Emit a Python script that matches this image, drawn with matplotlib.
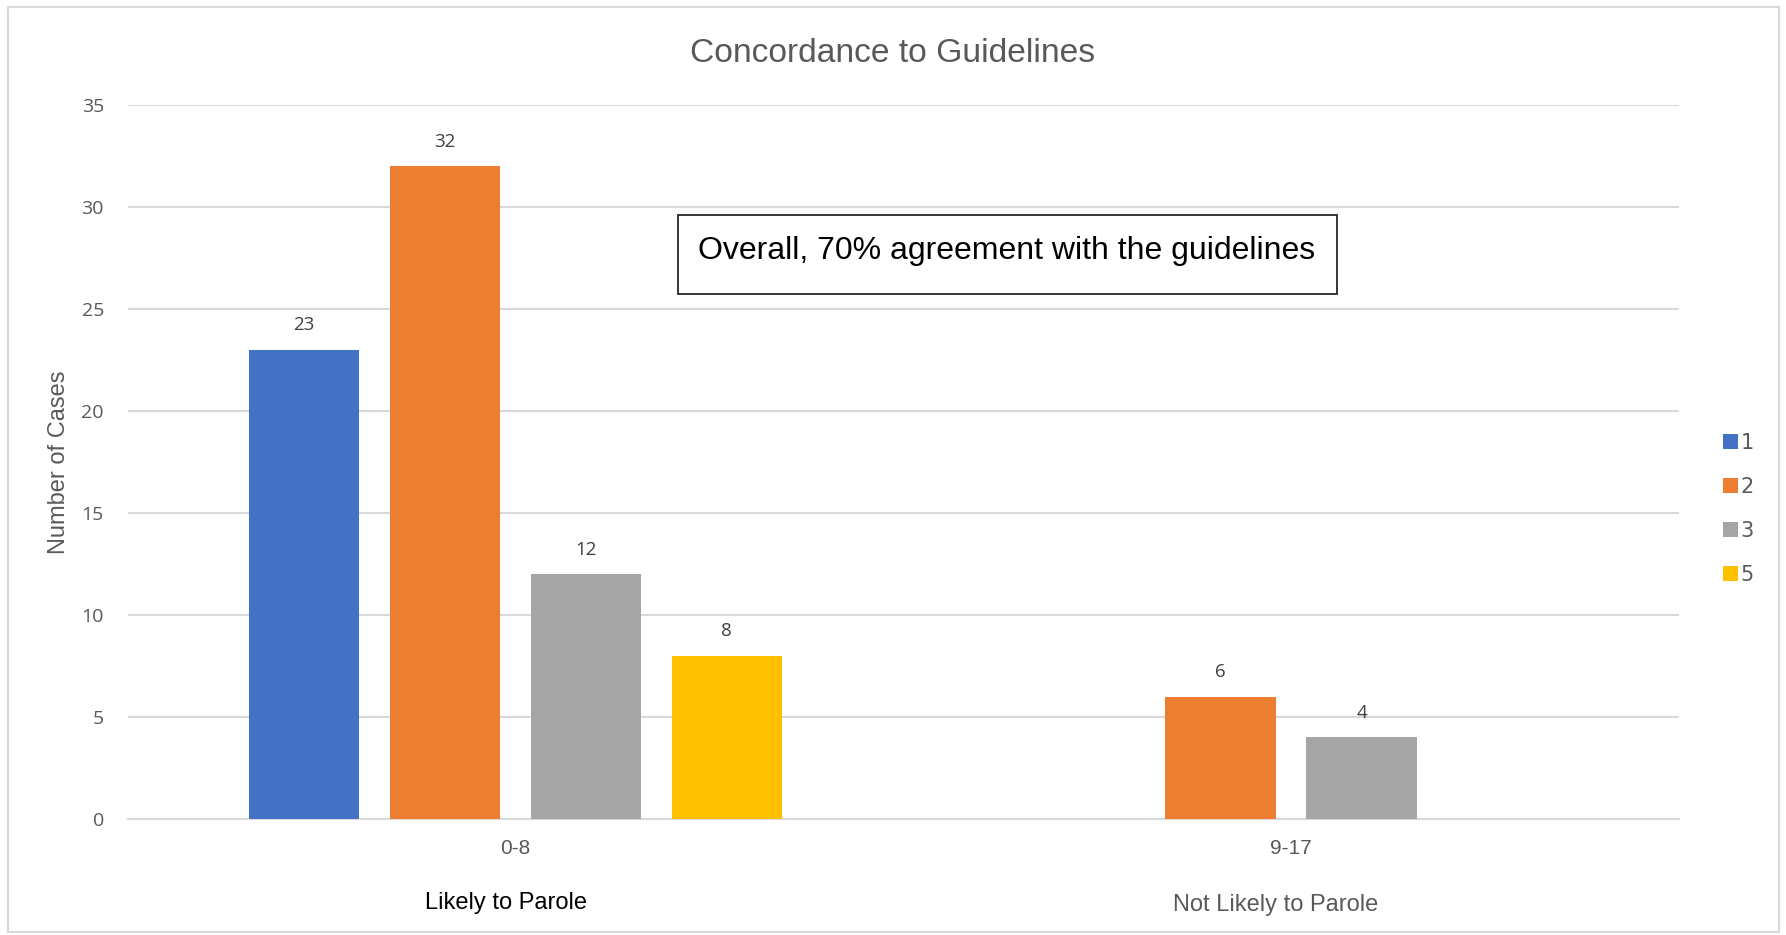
import numpy as np
import matplotlib
matplotlib.use('Agg')
import matplotlib.pyplot as plt
from matplotlib import font_manager
from matplotlib.patches import Rectangle

categories = ['0-8', '9-17']
groups = ['Likely to Parole', 'Not Likely to Parole']
series_names = ['1', '2', '3', '5']
s1 = [23, np.nan]
s2 = [32, 6]
s3 = [12, 4]
s5 = [8, np.nan]
colors = ['#4472C4', '#ED7D31', '#A5A5A5', '#FFC000']

names = {f.name for f in font_manager.fontManager.ttflist}
narrow = 'Liberation Sans Narrow' if 'Liberation Sans Narrow' in names else 'Liberation Sans'
tickfont = 'Open Sans'

fig = plt.figure(figsize=(17.86, 9.35), dpi=100)
ax = fig.add_axes([0.0714, 0.124, 0.8687, 0.7639])

x = np.arange(len(categories))
slot = 0.1817
width = 0.1424
offsets = [-1.5, -0.5, 0.5, 1.5]
handles = []
for vals, off, c, n in zip([s1, s2, s3, s5], offsets, colors, series_names):
    bars = ax.bar(x + off * slot, np.nan_to_num(vals), width, color=c, label=n, zorder=3)
    handles.append(bars)
    for xi, v in zip(x, vals):
        if not np.isnan(v):
            ax.annotate(str(v), (xi + off * slot, v), xytext=(0, 17.5), textcoords='offset points',
                        ha='center', va='center', fontsize=13.5, color='#404040', family=tickfont)

ax.set_xlim(-0.5, 1.5)
ax.set_ylim(0, 35)
ax.set_yticks(range(0, 36, 5))
ax.grid(axis='y', color='#d9d9d9', linewidth=1.5, zorder=0)
for s in ['top', 'right', 'left']:
    ax.spines[s].set_visible(False)
ax.spines['bottom'].set_color('#d9d9d9')
ax.spines['bottom'].set_linewidth(1.5)
ax.tick_params(axis='y', length=0, pad=17, labelsize=14, labelcolor='#595959')
ax.tick_params(axis='x', length=0, pad=14, labelsize=15, labelcolor='#595959')
for lab in ax.get_yticklabels():
    lab.set_family(tickfont)
ax.set_xticks(x)
ax.set_xticklabels(categories, family=narrow)

ax.set_ylabel('Number of Cases', fontsize=17, color='#595959', family=narrow, labelpad=8)

# group labels under the categories
ax.text(-0.0125, -0.117, groups[0], transform=ax.get_xaxis_transform(), ha='center', va='center',
        fontsize=17, color='black', family=narrow)
ax.text(0.98, -0.12, groups[1], transform=ax.get_xaxis_transform(), ha='center', va='center',
        fontsize=17, color='#595959', family=narrow)

fig.text(0.5, 1 - 53.5 / 935, 'Concordance to Guidelines', ha='center', va='center',
         fontsize=24.2, color='#595959', family=narrow)

# annotation box
fig.patches.append(Rectangle((678 / 1786, 1 - 294 / 935), 659 / 1786, 79 / 935,
                             transform=fig.transFigure, fill=False, edgecolor='#262626', linewidth=1.3))
fig.text(1007 / 1786, 1 - 250.5 / 935, 'Overall, 70% agreement with the guidelines', ha='center', va='center',
         fontsize=23, color='black', family=narrow)

leg = fig.legend(handles=handles, labels=series_names, loc='upper left', bbox_to_anchor=(1704 / 1786, 1 - 414 / 935),
                 frameon=False, fontsize=15, handlelength=0.75, handleheight=0.75, handletextpad=0.1,
                 labelspacing=1.15, labelcolor='#595959')

# chart border
fig.patches.append(Rectangle((8 / 1786, 3 / 935), 1771 / 1786, 925 / 935, transform=fig.transFigure,
                             fill=False, edgecolor='#d9d9d9', linewidth=1.5))

fig.savefig('out.png', dpi=100)
